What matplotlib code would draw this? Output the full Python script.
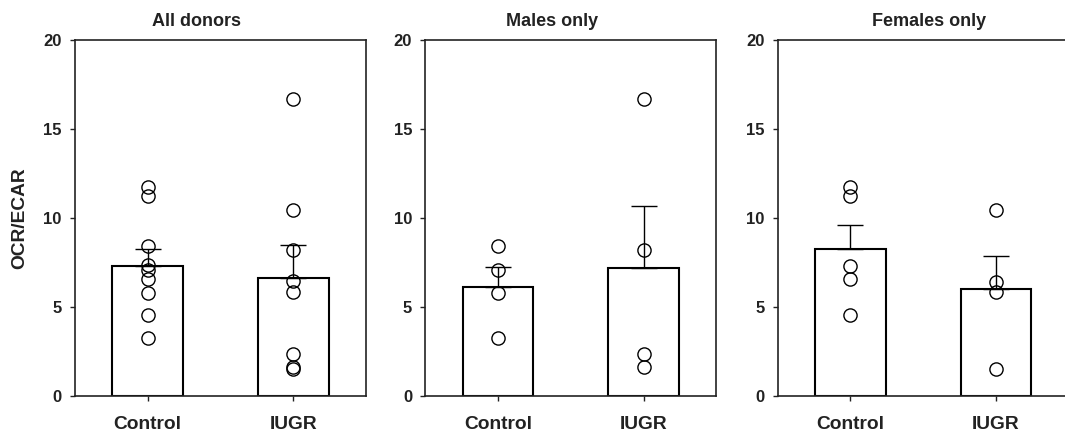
import numpy as np
import matplotlib
matplotlib.use('Agg')
import matplotlib.pyplot as plt

plt.rcParams['font.family'] = ['Liberation Sans', 'DejaVu Sans']
plt.rcParams['font.weight'] = 'bold'

# 数据
groups = ['Control', 'IUGR']
titles = ['All donors', 'Males only', 'Females only']

all_control = [11.70, 11.20, 8.43, 7.35, 7.07, 6.54, 5.76, 4.54, 3.27]
all_iugr = [16.67, 10.43, 8.19, 6.45, 5.81, 2.36, 1.60, 1.50]
male_control = [8.43, 7.07, 5.76, 3.27]
male_iugr = [16.67, 8.19, 2.36, 1.63]
female_control = [11.75, 11.23, 7.30, 6.55, 4.53]
female_iugr = [10.44, 6.42, 5.84, 1.53]

all_means = [7.31, 6.64]
all_sem = [0.93, 1.83]
male_means = [6.13, 7.20]
male_sem = [1.10, 3.47]
female_means = [8.27, 6.02]
female_sem = [1.35, 1.84]

panels = [
    (all_control, all_iugr, all_means, all_sem),
    (male_control, male_iugr, male_means, male_sem),
    (female_control, female_iugr, female_means, female_sem),
]

W, H = 1065, 437
fig = plt.figure(figsize=(W / 100, H / 100), dpi=100)

lefts = [75, 425.3, 777.7]
title_x = [0.416, 0.435, 0.52]
ax_w = 291
ax_bottom = 41
ax_h = 356.5
line_col = '#222222'

for i, (ctrl, iugr, means, sem) in enumerate(panels):
    ax = fig.add_axes([lefts[i] / W, ax_bottom / H, ax_w / W, ax_h / H])
    x = np.arange(len(groups))
    ax.bar(x, means, width=0.486, color='white', edgecolor='black',
           linewidth=1.5, zorder=2)
    ax.errorbar(x, means, yerr=[np.zeros(len(sem)), sem], fmt='none',
                ecolor='black', elinewidth=1, capsize=9.7, capthick=1, zorder=3)
    for xi, pts in zip(x, [ctrl, iugr]):
        ax.plot(np.full(len(pts), xi), pts, 'o', ms=9.5, mfc='none',
                mec='black', mew=1, zorder=4)

    ax.set_xlim(-0.5, 1.5)
    ax.set_ylim(0, 20)
    ax.set_yticks([0, 5, 10, 15, 20])
    ax.set_xticks(x)
    ax.set_xticklabels(groups, fontsize=13.8, fontweight='bold')
    ax.tick_params(axis='y', direction='out', length=3.5, width=1,
                   labelsize=12, pad=6, colors=line_col)
    ax.tick_params(axis='x', direction='out', length=3.5, width=1,
                   labelsize=13.8, pad=11, colors=line_col)
    for lab in ax.get_yticklabels():
        lab.set_fontweight('bold')
    for s in ax.spines.values():
        s.set_color(line_col)
        s.set_linewidth(1.2)

    ax.text(title_x[i], 1.038, titles[i], transform=ax.transAxes,
            ha='center', va='baseline', fontsize=13, fontweight='bold',
            color=line_col)
    if i == 0:
        ax.text(-0.189, 0.5, 'OCR/ECAR', transform=ax.transAxes,
                rotation=90, ha='center', va='center', fontsize=13.8,
                fontweight='bold', color=line_col)

fig.savefig('out.png', dpi=100)
